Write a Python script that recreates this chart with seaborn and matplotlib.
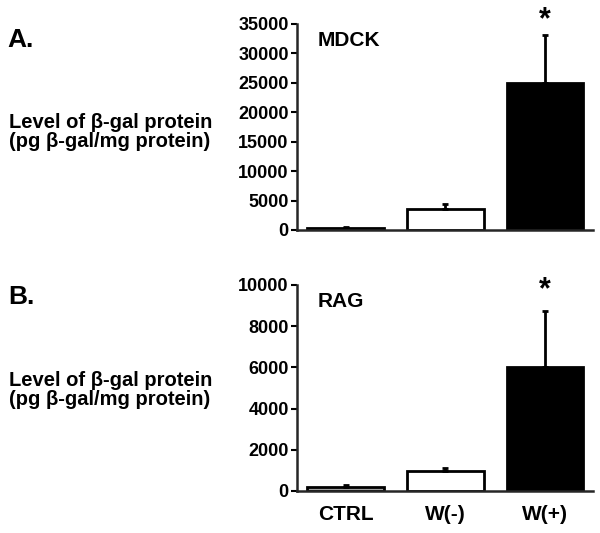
import matplotlib
matplotlib.use('Agg')
import matplotlib.pyplot as plt
import numpy as np
import pandas as pd
import seaborn as sns

sns.set_style('white')
plt.rcParams['font.family'] = ['Liberation Sans', 'DejaVu Sans']
plt.rcParams['font.weight'] = 'bold'
plt.rcParams['text.color'] = 'black'
plt.rcParams['xtick.color'] = 'black'
plt.rcParams['ytick.color'] = 'black'

# data
groups = ['CTRL', 'W(-)', 'W(+)']
bar_colors = ['#a0a0a0', 'white', 'black']
mdck_mean = [300, 3600, 25000]
mdck_err = [200, 800, 8200]
rag_mean = [180, 950, 6000]
rag_err = [120, 150, 2750]

fig = plt.figure(figsize=(6, 5.33), dpi=100)
ax1 = fig.add_axes([0.495, 0.5685, 0.493, 0.3865])
ax2 = fig.add_axes([0.495, 0.0788, 0.493, 0.3865])

def panel(ax, means, errs, ymax, step, name, star_off, show_x):
    df = pd.DataFrame({'group': groups, 'value': means})
    sns.barplot(data=df, x='group', y='value', hue='group', palette=bar_colors,
                legend=False, edgecolor='black', linewidth=2, width=0.77, ax=ax)
    ax.errorbar(range(3), means, yerr=[np.zeros(3), errs], fmt='none',
                ecolor='black', elinewidth=2, capsize=2.5, capthick=2, zorder=1)
    ax.set_xlim(-0.49, 2.48)
    ax.set_ylim(0, ymax)
    ax.set_yticks(np.arange(0, ymax + 1, step))
    ax.tick_params(axis='y', direction='out', length=4, width=1.5, labelsize=13, pad=2, left=True)
    ax.tick_params(axis='x', length=0, labelsize=15, pad=10)
    for lab in ax.get_yticklabels() + ax.get_xticklabels():
        lab.set_fontweight('bold')
    ax.set_xlabel('')
    ax.set_ylabel('')
    if not show_x:
        ax.set_xticklabels([])
    sns.despine(ax=ax)
    for s in ['left', 'bottom']:
        ax.spines[s].set_linewidth(1.8)
    ax.text(0.07, 0.92, name, transform=ax.transAxes, fontsize=15, fontweight='bold', va='center')
    ax.annotate('*', xy=(2, means[2] + errs[2]), xytext=(0, star_off), textcoords='offset points',
                ha='center', va='center', fontsize=22, fontweight='bold', annotation_clip=False)

panel(ax1, mdck_mean, mdck_err, 35000, 5000, 'MDCK', 10, False)
panel(ax2, rag_mean, rag_err, 10000, 2000, 'RAG', 15, True)

ylab = 'Level of \u03b2-gal protein\n(pg \u03b2-gal/mg protein)'
fig.text(0.013, 0.925, 'A.', fontsize=19, fontweight='bold', va='center')
fig.text(0.013, 0.443, 'B.', fontsize=19, fontweight='bold', va='center')
fig.text(0.015, 0.753, ylab, fontsize=14.5, fontweight='bold', va='center', linespacing=1.0)
fig.text(0.015, 0.268, ylab, fontsize=14.5, fontweight='bold', va='center', linespacing=1.0)

fig.savefig('out.png', dpi=100)
